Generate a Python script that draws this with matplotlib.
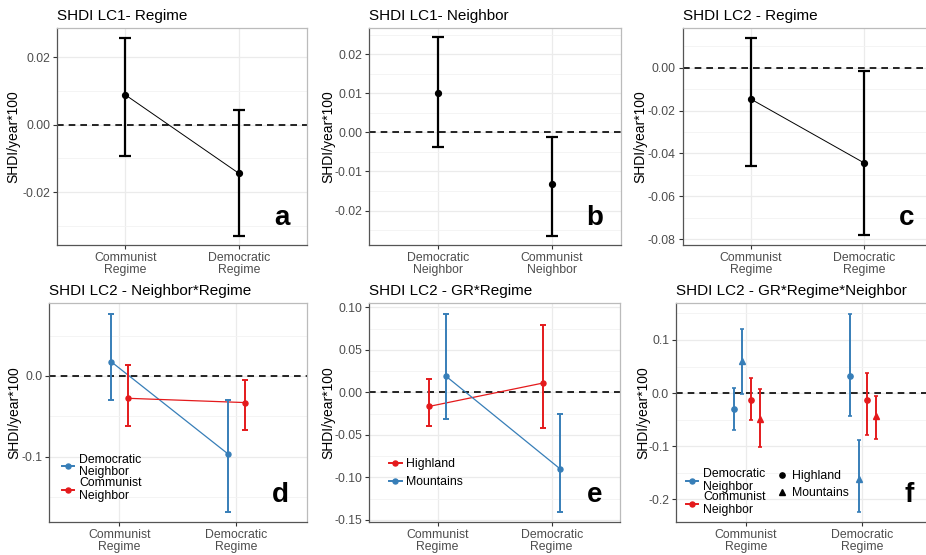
import matplotlib
matplotlib.use("Agg")
import matplotlib.pyplot as plt
from matplotlib.lines import Line2D
import numpy as np

plt.rcParams['font.family'] = ['Liberation Sans', 'DejaVu Sans']

regime_lab = ["Communist\nRegime", "Democratic\nRegime"]
neighbor_lab = ["Democratic\nNeighbor", "Communist\nNeighbor"]

# a: LC1 - Regime
a_est = [0.0088, -0.0145]
a_lo = [-0.0092, -0.0330]
a_hi = [0.0256, 0.0044]
# b: LC1 - Neighbor
b_est = [0.0102, -0.0132]
b_lo = [-0.0037, -0.0264]
b_hi = [0.0243, -0.0012]
# c: LC2 - Regime
c_est = [-0.0146, -0.0444]
c_lo = [-0.0457, -0.0780]
c_hi = [0.0140, -0.0015]
# d: LC2 - Neighbor*Regime
d_dem_est = [0.0177, -0.0967]
d_dem_lo = [-0.0297, -0.169]
d_dem_hi = [0.0768, -0.0297]
d_com_est = [-0.0277, -0.033]
d_com_lo = [-0.062, -0.067]
d_com_hi = [0.0136, -0.0054]
# e: LC2 - GR*Regime
e_high_est = [-0.0165, 0.011]
e_high_lo = [-0.039, -0.0424]
e_high_hi = [0.0153, 0.0788]
e_mount_est = [0.0188, -0.090]
e_mount_lo = [-0.0318, -0.141]
e_mount_hi = [0.0918, -0.0255]
# f: LC2 - GR*Regime*Neighbor
f_dem_high_est = [-0.0295, 0.0325]
f_dem_high_lo = [-0.070, -0.0426]
f_dem_high_hi = [0.0087, 0.149]
f_dem_mount_est = [0.0606, -0.161]
f_dem_mount_lo = [-0.0019, -0.223]
f_dem_mount_hi = [0.121, -0.089]
f_com_high_est = [-0.0126, -0.0131]
f_com_high_lo = [-0.050, -0.078]
f_com_high_hi = [0.0287, 0.038]
f_com_mount_est = [-0.048, -0.044]
f_com_mount_lo = [-0.1006, -0.0863]
f_com_mount_hi = [0.008, -0.005]

BLUE = "#377EB8"
RED = "#E41A1C"
W, H = 926, 555

fig = plt.figure(figsize=(W / 100, H / 100), dpi=100)


def make_ax(x0, x1, y0, y1):
    ax = fig.add_axes([x0 / W, 1 - y1 / H, (x1 - x0) / W, (y1 - y0) / H])
    ax._px = (x0, x1)
    return ax


def style(ax, title, labels, ylim, major, minor, fmt, letter, ylab_px):
    ax.set_xlim(0.4, 2.6)
    ax.set_ylim(*ylim)
    ax.set_xticks([1, 2])
    ax.set_xticklabels(labels, linespacing=1.05)
    ax.set_yticks(major)
    ax.set_yticklabels([fmt % v if abs(v) > 1e-9 else fmt % 0 for v in major])
    ax.set_yticks(minor, minor=True)
    ax.tick_params(which='minor', length=0)
    ax.tick_params(which='major', length=3, width=0.8, color='#333333',
                   labelsize=8.8, labelcolor='#4D4D4D', pad=2)
    ax.grid(True, which='major', color='#EBEBEB', lw=0.9, zorder=0)
    ax.grid(True, which='minor', axis='y', color='#F3F3F3', lw=0.6, zorder=0)
    ax.set_axisbelow(True)
    for s in ['left', 'bottom']:
        ax.spines[s].set_color('#555555')
    for s in ['top', 'right']:
        ax.spines[s].set_color('#BBBBBB')
    for s in ax.spines.values():
        s.set_linewidth(0.9)
    ax.axhline(0, color='black', lw=1.2, dashes=(4, 3), zorder=1)
    ax.set_title(title, loc='left', fontsize=11, pad=6)
    ax.set_ylabel("SHDI/year*100", fontsize=10)
    x0, x1 = ax._px
    ax.yaxis.set_label_coords((ylab_px - x0) / (x1 - x0), 0.5)
    ax.annotate(letter, xy=(1, 0), xycoords='axes fraction', xytext=(-18, 20),
                textcoords='offset pixels', ha='right', va='baseline',
                fontsize=20, fontweight='bold')


def errs(est, lo, hi):
    est = np.array(est)
    return [est - np.array(lo), np.array(hi) - est]


xpos = np.array([1, 2])

# ---- top row
ax = make_ax(57, 307.3, 28, 245)
ax.plot(xpos, a_est, color='black', lw=0.7, zorder=2)
ax.errorbar(xpos, a_est, yerr=errs(a_est, a_lo, a_hi), fmt='o', color='black',
            ms=4.2, elinewidth=1.6, capsize=4.3, capthick=1.6, zorder=3)
style(ax, "SHDI LC1- Regime", regime_lab, (-0.0357, 0.0286),
      [-0.02, 0, 0.02], [-0.03, -0.01, 0.01], '%.2f', 'a', 20)

ax = make_ax(369, 620.7, 28, 245)
ax.errorbar(xpos, b_est, yerr=errs(b_est, b_lo, b_hi), fmt='o', color='black',
            ms=4.2, elinewidth=1.6, capsize=4.3, capthick=1.6, zorder=3)
style(ax, "SHDI LC1- Neighbor", neighbor_lab, (-0.0288, 0.0267),
      [-0.02, -0.01, 0, 0.01, 0.02], [-0.025, -0.015, -0.005, 0.005, 0.015, 0.025],
      '%.2f', 'b', 335)

ax = make_ax(682.7, 932, 28, 245)
ax.plot(xpos, c_est, color='black', lw=0.7, zorder=2)
ax.errorbar(xpos, c_est, yerr=errs(c_est, c_lo, c_hi), fmt='o', color='black',
            ms=4.2, elinewidth=1.6, capsize=4.3, capthick=1.6, zorder=3)
style(ax, "SHDI LC2 - Regime", regime_lab, (-0.0827, 0.0185),
      [-0.08, -0.06, -0.04, -0.02, 0], [-0.07, -0.05, -0.03, -0.01, 0.01],
      '%.2f', 'c', 647)

# ---- bottom row
ax = make_ax(49.3, 306.7, 303.3, 521.7)
for est, lo, hi, col, off in [
        (d_dem_est, d_dem_lo, d_dem_hi, BLUE, -0.072),
        (d_com_est, d_com_lo, d_com_hi, RED, 0.072)]:
    ax.plot(xpos + off, est, color=col, lw=0.9, zorder=2)
    ax.errorbar(xpos + off, est, yerr=errs(est, lo, hi), fmt='o', color=col,
                ms=3.6, elinewidth=1.4, capsize=2.5, capthick=1.4, zorder=3)
style(ax, "SHDI LC2 - Neighbor*Regime", regime_lab, (-0.1806, 0.090),
      [-0.1, 0.0], [-0.15, -0.05, 0.05], '%.1f', 'd', 21)
h = [Line2D([], [], color=BLUE, marker='o', ms=3.6, lw=1.4),
     Line2D([], [], color=RED, marker='o', ms=3.6, lw=1.4)]
leg = ax.legend(h, ["Democratic\nNeighbor", "Communist\nNeighbor"], loc='upper left',
                bbox_to_anchor=(0.05, 0.31), frameon=False, fontsize=8.8,
                handlelength=1.0, handletextpad=0.4, labelspacing=-0.1,
                borderpad=0, borderaxespad=0)
for t in leg.get_texts():
    t.set_linespacing(1.05)

ax = make_ax(369.3, 620, 303.3, 521.7)
for est, lo, hi, col, off in [
        (e_high_est, e_high_lo, e_high_hi, RED, -0.075),
        (e_mount_est, e_mount_lo, e_mount_hi, BLUE, 0.075)]:
    ax.plot(xpos + off, est, color=col, lw=0.9, zorder=2)
    ax.errorbar(xpos + off, est, yerr=errs(est, lo, hi), fmt='o', color=col,
                ms=3.6, elinewidth=1.4, capsize=2.5, capthick=1.4, zorder=3)
style(ax, "SHDI LC2 - GR*Regime", regime_lab, (-0.152, 0.1047),
      [-0.15, -0.10, -0.05, 0, 0.05, 0.10],
      [-0.125, -0.075, -0.025, 0.025, 0.075], '%.2f', 'e', 335)
h = [Line2D([], [], color=RED, marker='o', ms=3.6, lw=1.4),
     Line2D([], [], color=BLUE, marker='o', ms=3.6, lw=1.4)]
ax.legend(h, ["Highland", "Mountains"], loc='upper left',
          bbox_to_anchor=(0.08, 0.29), frameon=False, fontsize=8.8,
          handlelength=1.0, handletextpad=0.4, labelspacing=0.45,
          borderpad=0, borderaxespad=0)

ax = make_ax(676, 932, 303.3, 521.7)
for est, lo, hi, col, off, mk in [
        (f_dem_high_est, f_dem_high_lo, f_dem_high_hi, BLUE, -0.105, 'o'),
        (f_dem_mount_est, f_dem_mount_lo, f_dem_mount_hi, BLUE, -0.03, '^'),
        (f_com_high_est, f_com_high_lo, f_com_high_hi, RED, 0.045, 'o'),
        (f_com_mount_est, f_com_mount_lo, f_com_mount_hi, RED, 0.12, '^')]:
    ax.errorbar(xpos + off, est, yerr=errs(est, lo, hi), fmt=mk, color=col,
                ms=3.8, elinewidth=1.4, capsize=1.2, capthick=1.2, zorder=3)
style(ax, "SHDI LC2 - GR*Regime*Neighbor", regime_lab, (-0.242, 0.169),
      [-0.2, -0.1, 0.0, 0.1], [-0.15, -0.05, 0.05, 0.15], '%.1f', 'f', 650)
h = [Line2D([], [], color=BLUE, marker='o', ms=3.6, lw=1.4),
     Line2D([], [], color=RED, marker='o', ms=3.6, lw=1.4)]
leg = ax.legend(h, ["Democratic\nNeighbor", "Communist\nNeighbor"], loc='upper left',
                bbox_to_anchor=(0.04, 0.245), frameon=False, fontsize=8.8,
                handlelength=1.0, handletextpad=0.4, labelspacing=-0.1,
                borderpad=0, borderaxespad=0)
for t in leg.get_texts():
    t.set_linespacing(1.05)
ax.add_artist(leg)
h2 = [Line2D([], [], color='black', marker='o', ms=3.8, lw=0),
      Line2D([], [], color='black', marker='^', ms=3.8, lw=0)]
ax.legend(h2, ["Highland", "Mountains"], loc='upper left',
          bbox_to_anchor=(0.395, 0.235), frameon=False, fontsize=8.8,
          handlelength=0.8, handletextpad=0.4, labelspacing=0.4,
          borderpad=0, borderaxespad=0)

fig.savefig("out.png", dpi=100)
